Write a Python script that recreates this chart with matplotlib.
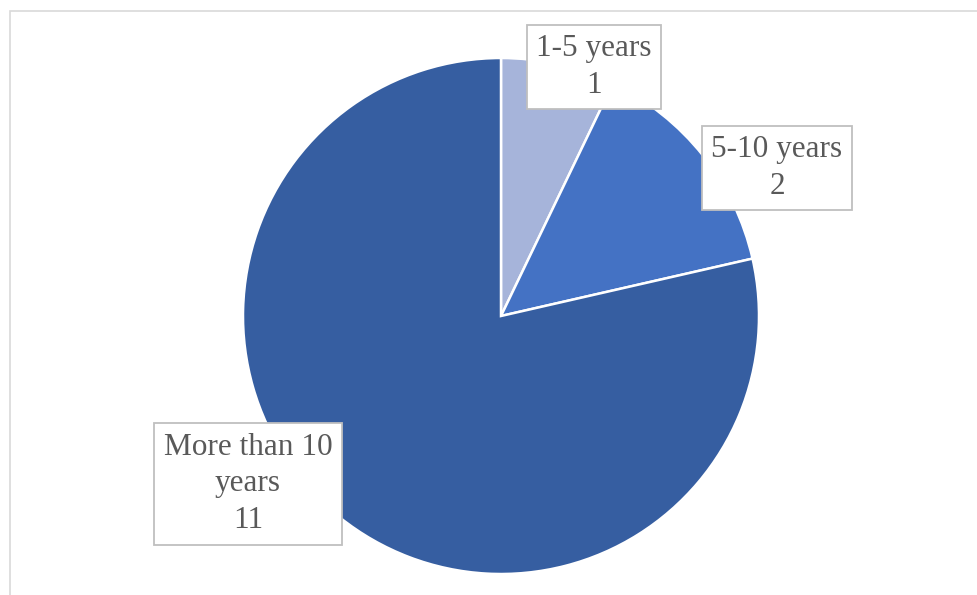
import matplotlib
matplotlib.use('Agg')
import matplotlib.pyplot as plt
from matplotlib.patches import Rectangle

labels = ['1-5 years', '5-10 years', 'More than 10\nyears']
values = [1, 2, 11]
colors = ['#A6B4DA', '#4472C4', '#365EA1']

# label box centres in pixel coords (y up)
label_pos = [(594, 528), (777, 427), (248, 111)]

fig = plt.figure(figsize=(9.77, 5.95), dpi=100)
ax = fig.add_axes([0, 0, 1, 1])

# outer chart border
ax.add_patch(Rectangle((9.5, -10), 1000, 595 - 11 + 10, fill=False,
                       edgecolor='#D9D9D9', linewidth=1.2))

ax.pie(values, colors=colors, startangle=90, counterclock=False,
       center=(501, 279), radius=258, frame=True,
       wedgeprops=dict(edgecolor='white', linewidth=1.8))

for lab, val, (x, y) in zip(labels, values, label_pos):
    ax.text(x, y, f'{lab}\n{val}', ha='center', va='center',
            fontsize=22.5, family='Liberation Serif', color='#595959',
            linespacing=1.35,
            bbox=dict(boxstyle='square,pad=0.3', facecolor='white',
                      edgecolor='#BFBFBF', linewidth=1.3))

ax.set_xlim(0, 977)
ax.set_ylim(0, 595)
ax.set_aspect('equal')
ax.axis('off')

plt.savefig('out.png', dpi=100)
